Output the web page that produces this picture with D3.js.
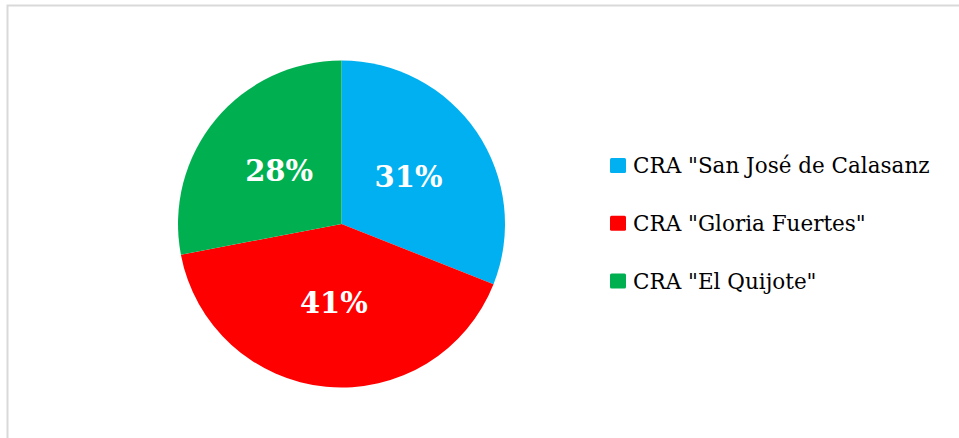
<!DOCTYPE html>
<html lang="en">
<head>
	<meta charset="UTF-8">
	<title>CRA pie</title>
	<style>
		body { margin: 0; background: #fff; }
		svg { display: block; }
	</style>
	<script src="https://d3js.org/d3.v7.min.js"></script>
</head>
<body>
	<script type="text/javascript">
// data
		const categories = ['CRA "San José de Calasanz', 'CRA "Gloria Fuertes"', 'CRA "El Quijote"']
		const values = [31, 41, 28]
		const colors = ["#00B0F0", "#FF0000", "#00B050"]

		const width = 959
		const height = 438

		const svg = d3.select("body").append("svg")
			.attr("width", width)
			.attr("height", height)

//chart border (only top and left visible in the picture)
		svg.append("rect")
			.attr("x", 7.5)
			.attr("y", 5.5)
			.attr("width", 1200)
			.attr("height", 1200)
			.style("fill", "none")
			.style("stroke", "#D9D9D9")
			.style("stroke-width", 2)

		const cx = 341.5
		const cy = 224
		const radius = 163.5

		const pie = d3.pie().sort(null).value(d => d)
		const arcs = pie(values)
		const total = d3.sum(values)

		const arc = d3.arc().innerRadius(0).outerRadius(radius)
		const labelArc = d3.arc().innerRadius(81).outerRadius(81)

		const g = svg.append("g").attr("transform", "translate(" + cx + "," + cy + ")")

//slices
		g.selectAll(".slice")
			.data(arcs)
			.join("path")
			.attr("class", "slice")
			.attr("d", arc)
			.style("fill", (d, i) => colors[i])

//percent labels
		g.selectAll(".pct")
			.data(arcs)
			.join("text")
			.attr("class", "pct")
			.attr("transform", d => "translate(" + labelArc.centroid(d) + ")")
			.attr("text-anchor", "middle")
			.attr("dy", "0.3em")
			.style("font-family", "'DejaVu Serif', serif")
			.style("font-weight", "bold")
			.style("font-size", "29px")
			.style("fill", "white")
			.text(d => Math.round(d.value / total * 100) + "%")

//legend
		const legend = svg.append("g").attr("transform", "translate(610,0)")
		const ly = d3.scalePoint().domain(categories).range([165.5, 281])

		legend.selectAll(".key")
			.data(categories)
			.join("rect")
			.attr("class", "key")
			.attr("x", 0)
			.attr("y", d => ly(d) - 7.5)
			.attr("width", 16)
			.attr("height", 15)
			.attr("rx", 1.5)
			.style("fill", (d, i) => colors[i])

		legend.selectAll(".ltext")
			.data(categories)
			.join("text")
			.attr("class", "ltext")
			.attr("x", 23)
			.attr("y", d => ly(d))
			.attr("dy", "0.35em")
			.style("font-family", "'DejaVu Serif', serif")
			.style("font-size", "21.5px")
			.style("fill", "#000")
			.text(d => d)
	</script>
</body>
</html>
